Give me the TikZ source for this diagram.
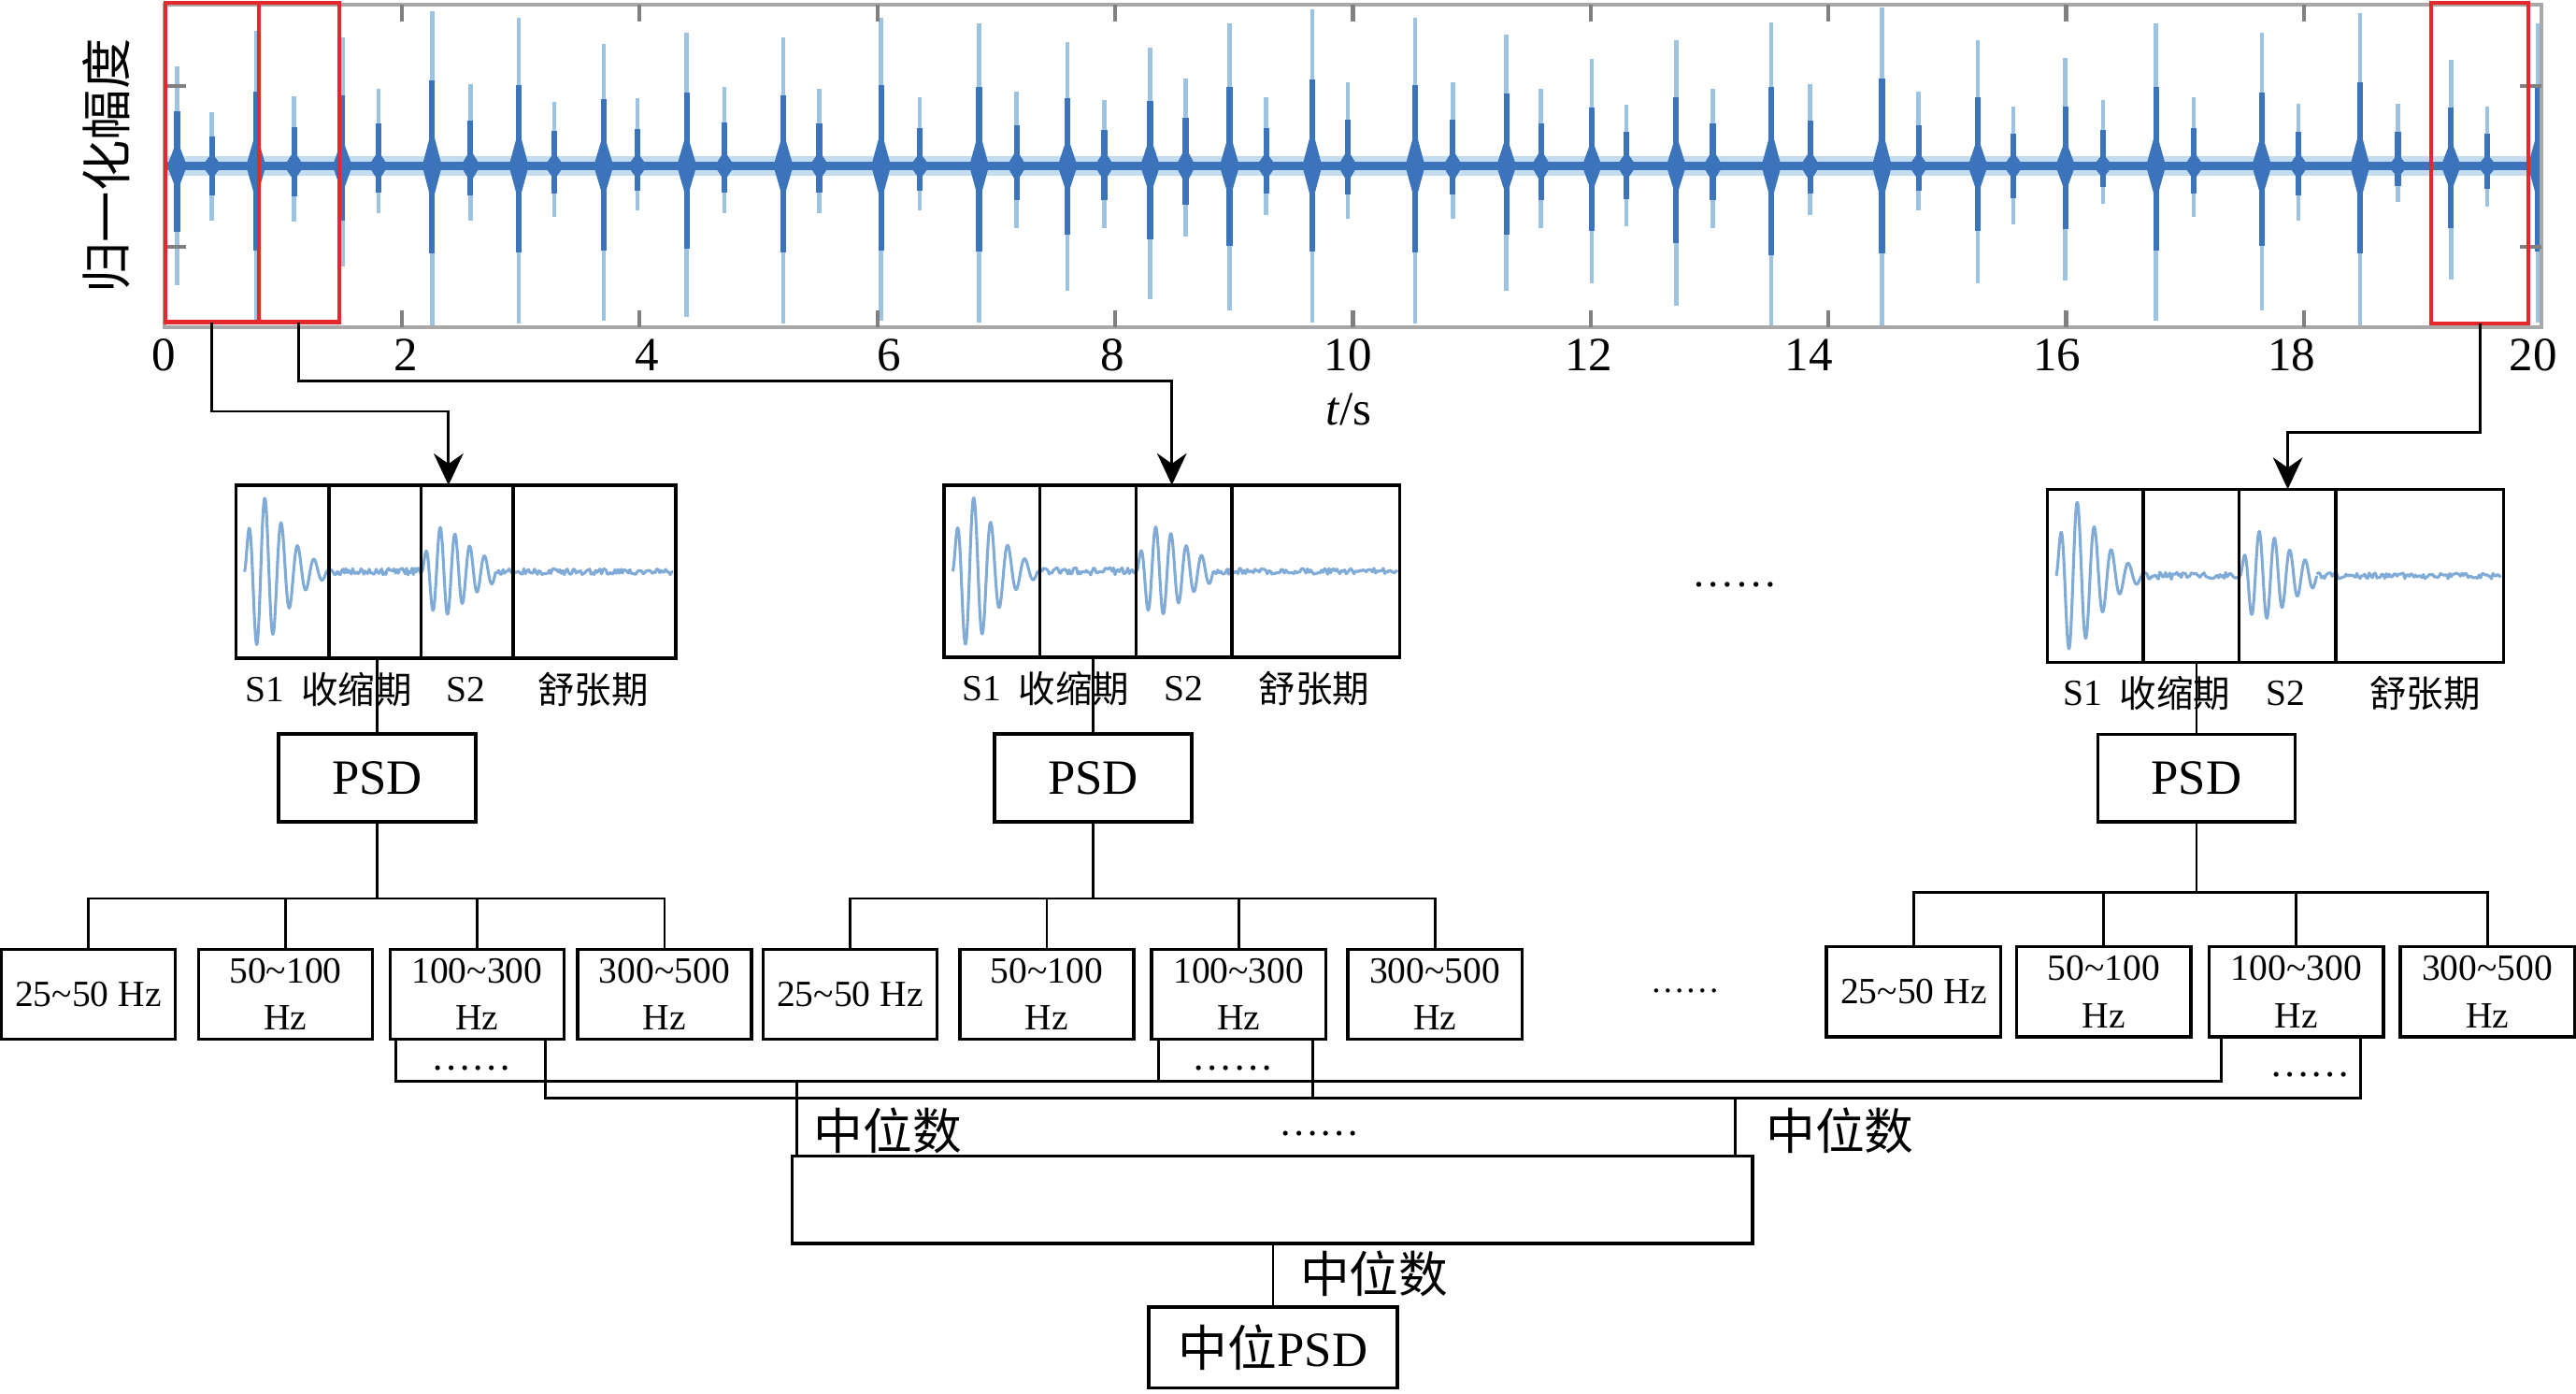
\documentclass[tikz,border=0pt]{standalone}
\usepackage{fontspec}
\setmainfont{Liberation Serif}
\newfontfamily\cjk{Noto Sans CJK SC}
\usetikzlibrary{arrows.meta,fit,calc}

\definecolor{sigdark}{HTML}{3B74BA}
\definecolor{siglight}{HTML}{9DC3E2}
\definecolor{sigpale}{HTML}{C4DCEF}
\definecolor{selred}{HTML}{E4282C}
\definecolor{axgray}{HTML}{A8A8A8}

% one beat of the recording: x, top, bottom
\newcommand\hsspike[3]{%
  \draw[siglight, line width=1.1pt] (#1,#2) -- (#1,#3);
  \draw[sigdark, line width=1.5pt] (#1,{101-0.55*(101-#2)}) -- (#1,{101+0.55*(#3-101)});
  \fill[sigdark] ({#1-6},101) -- (#1,{101-0.12*(#3-#2)}) -- ({#1+6},101) -- (#1,{101+0.12*(#3-#2)}) -- cycle;
}
\newcommand\hswave{%
  \draw[wave] plot[domain=0:50, samples=200] ({5+\x},{-46*(\x/10)*exp(1-\x/10)*sin(36*\x)});
  \draw[wave] plot[domain=55:113, samples=70] (\x,{2.2*rand});
  \draw[wave] plot[domain=0:45, samples=180] ({113+\x},{-27*(\x/12)*exp(1-\x/12)*sin(40*\x)});
  \draw[wave] plot[domain=158:266, samples=120] (\x,{1.8*rand});
}

\begin{document}
\begin{tikzpicture}
  [x=0.15mm,y=-0.15mm,
   every node/.style={inner sep=0pt,outer sep=0pt},
   box/.style={draw,line width=0.85pt},
   sel/.style={draw=selred,line width=1pt},
   frame/.style={draw=axgray,line width=1pt},
   tickmark/.style={draw=gray,line width=1pt},
   link/.style={line width=0.7pt},
   arrowlink/.style={link,-{Stealth[length=2.9mm,width=2.7mm]}},
   band/.style={box,minimum width=15.9mm,minimum height=8.2mm,align=center,font=\fontsize{9.6}{12.2}\selectfont},
   psd/.style={box,minimum width=18mm,minimum height=8mm,font=\fontsize{12.8}{14}\selectfont},
   small/.style={font=\fontsize{9.6}{11}\selectfont},
   smallcjk/.style={font=\cjk\fontsize{9.6}{11}\selectfont},
   big/.style={font=\cjk\fontsize{12.8}{14}\selectfont},
   ticklab/.style={font=\fontsize{12.4}{14}\selectfont},
   dots/.style={font=\fontsize{10.5}{12}\selectfont},
   wave/.style={siglight!70!sigdark,line width=0.75pt,line join=round}]
  \useasboundingbox (0,0) rectangle (1568,848);
  \pgfmathsetseed{11}

  \begin{scope}
    \clip (100,3) rectangle (1547,199);
    \fill[sigpale] (100,95) rectangle (1547,107);
    \fill[sigdark] (100,98.5) rectangle (1547,103.5);
    \foreach \sx/\st/\sb in {107.8/40.6/173.6,155.8/19/195,208.4/22.6/162,263/6.6/198,315.8/11/197,
      367.4/27/195,418/20/192.6,476.8/22.6/197,536.3/11/195,596/14/196,649.8/25.6/177,700.1/29/182,
      748.4/14/189,798.7/5.7/196,861.4/11/197,916.9/21/177,969/36/172.5,1020.3/24.6/186,1078.2/13.7/200,
      1145.5/4.7/198,1203.9/24.6/172.5,1257.2/35/170.6,1312.3/14/195,1376.7/20/189,1436.5/8/198,
      1491.9/36.6/170,1544.7/14/196}
      {\hsspike{\sx}{\st}{\sb}}
    \foreach \sx/\st/\sb in {129/68/134,179/58.5/135,230.3/54/130,286.4/51/134,337.4/62/132,388/60/128,
      441/53/130,498.7/54/130,559.9/59/128,618.8/56/139,672.2/60.7/139,721.7/48/144,770.7/59/131,
      820.3/50/133,884.3/50/133,938/54/139,990/63.5/137.5,1042.6/54/139,1101.8/51/131,1167.8/56/128,
      1225.5/65/136.5,1280/61/124,1335.4/59/132,1399.1/63/134,1459.6/63/123,1513.9/65/126}
      {\hsspike{\sx}{\st}{\sb}}
  \end{scope}

  \node[frame,fit={(100,3) (1547,199)}] (ax) {};
  \foreach \t in {2,4,...,18} {
    \draw[tickmark] ({100+72.35*\t},3) -- ++(0,10);
    \draw[tickmark] ({100+72.35*\t},199) -- ++(0,-10);
  }
  \foreach \yy in {52.5,150} {
    \draw[tickmark] (100,\yy) -- ++(13,0);
    \draw[tickmark] (1547,\yy) -- ++(-13,0);
  }
  \foreach \t/\tx in {0/99.6,2/247,4/394,6/541,8/677,10/820.5,12/967,14/1101,16/1252,18/1395,20/1542}
    \node[ticklab] (t\t) at (\tx,216) {\t};
  \node[ticklab] (tunit) at (821,249) {\textit{t}/s};
  \node[rotate=90,font=\cjk\fontsize{13.2}{14}\selectfont] (ylab) at (65,101) {归一化幅度};

  \node[sel,fit={(100.6,1.5) (157.4,196)}] (r1) {};
  \node[sel,fit={(157.4,1.5) (206.4,196)}] (r2) {};
  \node[sel,fit={(1480,1.5) (1539,196.7)}] (r3) {};

  \node[box,fit={(143.7,295.3) (411.3,400.5)}] (wb1) {};
  \node[box,fit={(574.6,295.2) (852,400.1)}] (wb2) {};
  \node[box,fit={(1246.3,297.7) (1523.8,403)}] (wb3) {};
  \foreach \n/\s in {1/1,2/1.037,3/1.037} {
    \begin{scope}[shift={(wb\n.west)},xscale=\s]
      \hswave
    \end{scope}
  }
  \foreach \n/\a/\b/\c in {1/200.4/256.3/312.4,2/632.9/691.4/749.8,3/1304.6/1363/1421.8}
    \foreach \d in {\a,\b,\c}
      \draw[box] (\d,0 |- wb\n.north) -- (\d,0 |- wb\n.south);

  \draw[arrowlink] (r1.south) |- ($(wb1.north)+(-4.5,-45)$) -- ($(wb1.north)+(-4.5,0)$);
  \draw[arrowlink] (r2.south) |- ($(wb2.north)+(0,-63.4)$) -- (wb2.north);
  \draw[arrowlink] (r3.south) |- ($(wb3.north)+(7.5,-34.7)$) -- ($(wb3.north)+(7.5,0)$);

  \foreach \n/\a/\b/\c/\d in {1/17.3/73.3/139.6/217.3,2/22.8/79.1/145.7/225.4,3/21.7/77.7/144.7/229.7} {
    \node[small] (sa\n) at ($(wb\n.south west)+(\a,19)$) {S1};
    \node[smallcjk] (sb\n) at ($(wb\n.south west)+(\b,19)$) {收缩期};
    \node[small] (sc\n) at ($(wb\n.south west)+(\c,19)$) {S2};
    \node[smallcjk] (sd\n) at ($(wb\n.south west)+(\d,19)$) {舒张期};
  }
  \node[dots,font=\fontsize{11}{12}\selectfont] (gap1) at (1056,356) {……};

  \node[psd] (p1) at (229.5,473.3) {PSD};
  \node[psd] (p2) at (665.4,473.3) {PSD};
  \node[psd] (p3) at (1337,473.5) {PSD};
  \foreach \n in {1,2,3}
    \draw[link] (p\n.north) -- (p\n.north |- wb\n.south);

  \foreach \n/\yy/\xa/\xb/\xc/\xd in {1/605/53.7/173.8/290.4/404.5,2/605/517.4/637.2/754/873.4,
    3/603.5/1164.8/1280.5/1397.8/1514} {
    \node[band] (band\n1) at (\xa,\yy) {25\textasciitilde50 Hz};
    \node[band] (band\n2) at (\xb,\yy) {50\textasciitilde100\\Hz};
    \node[band] (band\n3) at (\xc,\yy) {100\textasciitilde300\\Hz};
    \node[band] (band\n4) at (\xd,\yy) {300\textasciitilde500\\Hz};
  }
  \foreach \n/\h in {1/46.8,2/46.8,3/43}
    \foreach \b in {1,...,4}
      \draw[link] (p\n.south) -- ++(0,\h) -| (band\n\b.north);
  \node[dots,font=\fontsize{9}{10}\selectfont] (gap2) at (1025.7,603) {……};

  \draw[link] (241,0 |- band13.south) |- (1352,658) -- (1352,0 |- band33.south);
  \draw[link] (705,0 |- band23.south) -- (705,658);
  \draw[link] (332,0 |- band13.south) |- (1437,668) -- (1437,0 |- band33.south);
  \draw[link] (799,0 |- band23.south) -- (799,668);
  \node[dots] (d1) at (287,650) {……};
  \node[dots] (d2) at (750.5,650) {……};
  \node[dots] (d3) at (1406,654) {……};

  \node[box,fit={(482.3,703.4) (1066.8,756.8)}] (med) {};
  \draw[link] (485,658) -- (485,0 |- med.north);
  \draw[link] (1056,668) -- (1056,0 |- med.north);
  \node[big] (mlab1) at (540.4,688) {中位数};
  \node[big] (mlab2) at (1120,688) {中位数};
  \node[dots] (d4) at (803,690) {……};

  \node[psd,minimum width=22.7mm,minimum height=7.4mm] (final) at (774.9,820) {{\cjk 中位}PSD};
  \draw[link] (final.north) -- (final.north |- med.south);
  \node[big] (mlab3) at (836.5,775) {中位数};
\end{tikzpicture}
\end{document}
